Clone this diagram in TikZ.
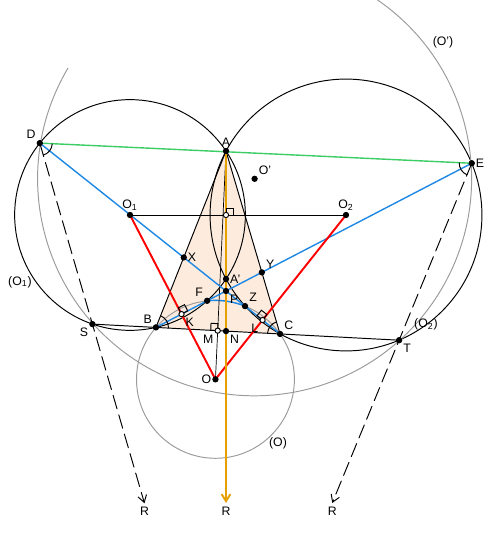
\documentclass[tikz,border=0pt]{standalone}
\usepackage{fontspec}
\setmainfont{Liberation Sans}
\usepackage{tkz-euclide}
\usetikzlibrary{arrows.meta, calc}
\definecolor{peach}{RGB}{253,236,222}
\definecolor{lgreen}{RGB}{60,205,100}
\definecolor{sblue}{RGB}{30,136,229}
\definecolor{gold}{RGB}{230,160,0}
\definecolor{lgray}{RGB}{155,155,155}
\tikzset{lbl/.style={font=\fontsize{7}{8}\selectfont, inner sep=2pt}}
\tikzset{toR/.style={dash pattern=on 8pt off 3.5pt, -{Straight Barb[length=4pt,width=5pt]}}}

\begin{document}
\begin{tikzpicture}[line width=0.55pt]
\useasboundingbox (0,0) rectangle (10.04,10.68);
\tkzDefPoints{4.52/7.66/A, 4.52/5.10/Ap, 2.60/6.38/O1, 6.92/6.38/O2, 4.52/6.38/H, 3.119/4.132/B, 5.601/4.001/C, 4.52/4.86/P, 4.142/4.664/F, 4.901/4.557/Z}
\tkzDefPoints{9.435/7.415/E, 0.796/7.818/D, 4.309/3.093/O, 1.848/4.198/S, 7.982/3.876/T, 5.092/7.104/Op, 4.52/0.62/R2}
\tkzInterLL(A,B)(D,C) \tkzGetPoint{X}
\tkzInterLL(A,C)(E,B) \tkzGetPoint{Y}
\tkzInterLL(A,O)(B,C) \tkzGetPoint{M}
\tkzInterLL(A,Ap)(B,C) \tkzGetPoint{N}
\tkzDefMidPoint(B,F) \tkzGetPoint{K}
\tkzDefMidPoint(Z,C) \tkzGetPoint{L}
\coordinate (R1) at ($(D)!1.99!(S)$);
\coordinate (R3) at ($(E)!1.92!(T)$);
% triangle and circles
\tkzFillPolygon[fill=peach](A,B,C)
\tkzDrawCircles[black, line width=0.55pt](O1,A O2,A)
\tkzDrawCircle[lgray, line width=0.55pt](O,B)
\draw[lgray] (Op) ++(149.3:4.34) arc[start angle=149.3, end angle=415.5, radius=4.34];
\tkzDrawArc[sblue, line width=0.8pt](O,Z)(F)
% lines
\tkzDrawSegments[black, line width=0.55pt](A,B A,C S,T O1,O2)
\tkzDrawSegment[black, line width=0.4pt](A,O)
\tkzDrawSegment[lgreen, line width=0.8pt](D,E)
\tkzDrawSegments[sblue, line width=0.8pt](D,C E,B)
\tkzDrawSegments[red, line width=1.1pt](O1,O O2,O)
\tkzDrawSegments[black, line width=0.55pt, toR](D,R1 E,R3)
\tkzDrawSegment[gold, line width=1.1pt, -{Straight Barb[length=4pt,width=5pt]}](A,R2)
% marks
\tkzMarkAngle[size=0.25](C,B,A)
\tkzMarkAngle[size=0.25](A,C,B)
\tkzMarkAngle[size=0.25](S,D,E)
\tkzMarkAngle[size=0.25](D,E,T)
\tkzMarkRightAngle[size=0.14](A,H,O2)
\tkzMarkRightAngle[size=0.14](A,M,B)
\tkzMarkRightAngle[size=0.14](F,K,O1)
\tkzMarkRightAngle[size=0.14](O2,L,Z)
% points
\tkzDrawPoints[size=3, color=black, fill=black](A,Ap,O1,O2,B,C,P,F,Z,E,D,O,S,T,Op,X,Y,N)
\tkzDrawPoints[size=3, color=black, fill=white](H,M,K,L)
% labels
\tkzLabelPoint[above, lbl](A){A}
\tkzLabelPoint[above left, lbl](D){D}
\tkzLabelPoint[right, lbl](E){E}
\tkzLabelPoint[above, lbl](O1){O\textsubscript{1}}
\tkzLabelPoint[above, lbl](O2){O\textsubscript{2}}
\tkzLabelPoint[above right, lbl](Op){O'}
\tkzLabelPoint[right, lbl](X){X}
\tkzLabelPoint[above right, lbl](Y){Y}
\tkzLabelPoint[right, lbl](Ap){A'}
\tkzLabelPoint[below right, lbl](P){P}
\tkzLabelPoint[above left, lbl](F){F}
\tkzLabelPoint[above right, lbl](Z){Z}
\tkzLabelPoint[below right, lbl](K){K}
\tkzLabelPoint[below left, lbl](L){L}
\tkzLabelPoint[above left, lbl](B){B}
\tkzLabelPoint[above right, lbl](C){C}
\tkzLabelPoint[below left, lbl](M){M}
\tkzLabelPoint[below right, lbl](N){N}
\tkzLabelPoint[left, lbl](O){O}
\tkzLabelPoint[below left, lbl](S){S}
\tkzLabelPoint[below right, lbl](T){T}
\tkzLabelPoint[below, lbl](R1){R}
\tkzLabelPoint[below, lbl](R2){R}
\tkzLabelPoint[below, lbl](R3){R}
\node[lbl] (cO1) at (0.40,5.04) {(O\textsubscript{1})};
\node[lbl] (cO2) at (8.52,4.20) {(O\textsubscript{2})};
\node[lbl] (cO) at (5.56,1.82) {(O)};
\node[lbl] (cOp) at (8.86,9.84) {(O')};
\end{tikzpicture}
\end{document}
